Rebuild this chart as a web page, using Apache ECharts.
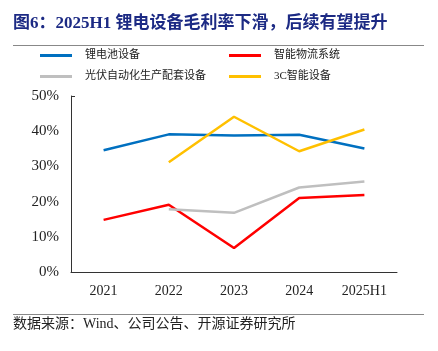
<!DOCTYPE html>
<html>
<head>
    <meta charset="utf-8">
    <script src="https://cdn.jsdelivr.net/npm/echarts@6/dist/echarts.min.js"></script>
    <style>
        html, body { margin: 0; padding: 0; background: #fff; }
    </style>
</head>
<body>
    <div id="main" style="width: 438px;height:351px;"></div>
    <script type="text/javascript">
        var years = ['2021', '2022', '2023', '2024', '2025H1'];
        var seriesNames = ['锂电池设备', '智能物流系统', '光伏自动化生产配套设备', '3C智能设备'];
        var lithium = [34.6, 39.1, 38.8, 39.0, 35.1];
        var logistics = [14.8, 19.1, 6.8, 21.0, 21.9];
        var solar = ['-', 17.8, 16.8, 24.0, 25.7];
        var threeC = ['-', 31.2, 44.1, 34.3, 40.5];
        var colors = ['#0070C0', '#FF0000', '#BFBFBF', '#FFC000'];

        var serif = '"Liberation Serif", "Noto Sans CJK SC", serif';
        var myChart = echarts.init(document.getElementById('main'));

        function legendAt(name, left, top) {
            return {
                data: [name],
                left: left,
                top: top,
                icon: 'rect',
                itemWidth: 32,
                itemHeight: 3,
                itemGap: 0,
                padding: 0,
                textStyle: { fontFamily: serif, fontSize: 11, color: '#222', padding: [0, 0, 0, 8] }
            };
        }

        function line(name, data, color) {
            return {
                name: name,
                type: 'line',
                data: data,
                symbol: 'none',
                lineStyle: { width: 2.5, color: color },
                itemStyle: { color: color },
                animation: false
            };
        }

        var option = {
            animation: false,
            graphic: [
                {
                    type: 'text', left: 13, top: 15,
                    style: {
                        text: '图6：2025H1 锂电设备毛利率下滑，后续有望提升',
                        font: 'bold 17px ' + serif,
                        fill: '#1c2a84'
                    }
                },
                { type: 'line', shape: { x1: 13, y1: 45.5, x2: 424, y2: 45.5 }, style: { stroke: '#888', lineWidth: 1 } },
                { type: 'line', shape: { x1: 13, y1: 314.5, x2: 424, y2: 314.5 }, style: { stroke: '#888', lineWidth: 1 } },
                {
                    type: 'text', left: 13, top: 317,
                    style: {
                        text: '数据来源：Wind、公司公告、开源证券研究所',
                        font: '14px ' + serif,
                        fill: '#222'
                    }
                }
            ],
            legend: [
                legendAt(seriesNames[0], 40, 50),
                legendAt(seriesNames[1], 229, 50),
                legendAt(seriesNames[2], 40, 71),
                legendAt(seriesNames[3], 229, 71)
            ],
            grid: { left: 71, right: 41, top: 96, bottom: 79 },
            xAxis: {
                type: 'category',
                data: years,
                boundaryGap: true,
                axisLine: { lineStyle: { color: '#333', width: 1 } },
                axisTick: { inside: true, length: 5, lineStyle: { color: '#333' } },
                axisLabel: { fontFamily: serif, fontSize: 14, color: '#222', margin: 12 }
            },
            yAxis: {
                type: 'value',
                min: 0,
                max: 50,
                interval: 10,
                axisLine: { show: true, lineStyle: { color: '#333', width: 1 } },
                axisTick: { show: true, inside: true, length: 4, customValues: [50], lineStyle: { color: '#333' } },
                splitLine: { show: false },
                axisLabel: { fontFamily: serif, fontSize: 15, color: '#222', margin: 12, formatter: '{value}%' }
            },
            series: [
                line(seriesNames[0], lithium, colors[0]),
                line(seriesNames[1], logistics, colors[1]),
                line(seriesNames[2], solar, colors[2]),
                line(seriesNames[3], threeC, colors[3])
            ]
        };

        myChart.setOption(option);
    </script>
</body>
</html>
